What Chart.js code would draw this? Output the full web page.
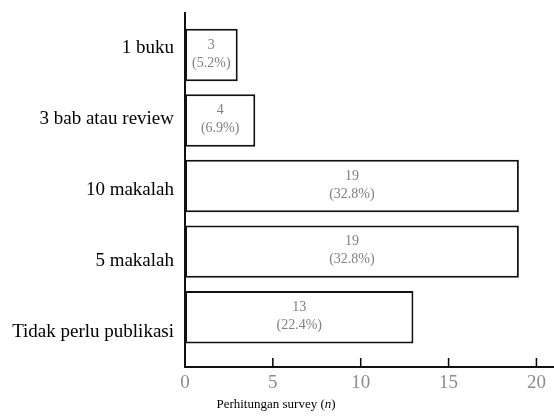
<!DOCTYPE html>
<html>
<head>
<meta charset="utf-8">
<script src="https://cdn.jsdelivr.net/npm/chart.js@4/dist/chart.umd.min.js"></script>
<style>
  html, body { margin: 0; padding: 0; background: #fff; }
  #wrap { width: 554px; height: 418px; position: relative; }
</style>
</head>
<body>
<div id="wrap"><canvas id="chart"></canvas></div>
<script>
// Data (top to bottom)
const categories = ['1 buku', '3 bab atau review', '10 makalah', '5 makalah', 'Tidak perlu publikasi'];
const counts = [3, 4, 19, 19, 13];
const percents = ['5.2%', '6.9%', '32.8%', '32.8%', '22.4%'];
const xTicks = [0, 5, 10, 15, 20];
const axisTitle = ['Perhitungan survey (', 'n', ')'];

const serif = '"Liberation Serif", "DejaVu Serif", serif';

// Write count and percentage inside each bar
const barLabels = {
  id: 'barLabels',
  afterDatasetsDraw(chart) {
    const ctx = chart.ctx;
    const meta = chart.getDatasetMeta(0);
    ctx.save();
    ctx.fillStyle = '#808080';
    ctx.font = '14px ' + serif;
    ctx.textAlign = 'center';
    ctx.textBaseline = 'middle';
    meta.data.forEach((bar, i) => {
      const cx = (bar.base + bar.x) / 2;
      ctx.fillText(String(counts[i]), cx, bar.y - 10);
      ctx.fillText('(' + percents[i] + ')', cx, bar.y + 8);
    });
    ctx.restore();
  }
};

// Tick marks pointing up into the plot, plus the x axis title
const axisExtras = {
  id: 'axisExtras',
  afterDraw(chart) {
    const ctx = chart.ctx;
    const x = chart.scales.x;
    const bottom = chart.chartArea.bottom;
    ctx.save();
    ctx.strokeStyle = '#000';
    ctx.lineWidth = 1.5;
    xTicks.slice(1).forEach(v => {
      const px = x.getPixelForValue(v);
      ctx.beginPath();
      ctx.moveTo(px, bottom);
      ctx.lineTo(px, bottom - 9);
      ctx.stroke();
    });

    // title with italic n
    ctx.fillStyle = '#000';
    ctx.textBaseline = 'middle';
    const fonts = ['13px ' + serif, 'italic 13px ' + serif, '13px ' + serif];
    let total = 0;
    axisTitle.forEach((t, i) => { ctx.font = fonts[i]; total += ctx.measureText(t).width; });
    let tx = 276 - total / 2;
    axisTitle.forEach((t, i) => {
      ctx.font = fonts[i];
      ctx.fillText(t, tx, 405);
      tx += ctx.measureText(t).width;
    });
    ctx.restore();
  }
};

new Chart(document.getElementById('chart'), {
  type: 'bar',
  data: {
    datasets: [{
      data: counts.map((v, i) => ({ x: v, y: i })),
      yAxisID: 'yb',
      backgroundColor: '#fff',
      borderColor: '#111',
      borderWidth: 2,
      borderSkipped: false,
      categoryPercentage: 1,
      barPercentage: 0.8
    }]
  },
  options: {
    indexAxis: 'y',
    responsive: true,
    maintainAspectRatio: false,
    animation: false,
    layout: { padding: 0 },
    scales: {
      x: {
        type: 'linear',
        bounds: 'data',
        offset: false,
        min: 0,
        max: 21,
        grid: { display: false },
        border: { display: true, color: '#111', width: 2 },
        afterBuildTicks: scale => { scale.ticks = xTicks.map(v => ({ value: v })); },
        afterFit: scale => { scale.height = 51; },
        ticks: {
          color: '#8c8c8c',
          padding: -3,
          font: { family: serif, size: 19 }
        }
      },
      // category axis carrying the labels and the axis line
      y: {
        type: 'category',
        labels: categories,
        offset: true,
        position: 'left',
        grid: { display: false },
        border: { display: true, color: '#111', width: 2 },
        afterFit: scale => { scale.width = 185; scale.paddingTop = 13; scale.paddingBottom = 0; },
        ticks: {
          color: '#000',
          padding: 3,
          font: { family: serif, size: 19 }
        }
      },
      // hidden linear axis that places the bars
      yb: {
        type: 'linear',
        display: false,
        bounds: 'data',
        offset: false,
        reverse: true,
        min: -0.64,
        max: 4.76,
        afterBuildTicks: scale => { scale.ticks = categories.map((c, i) => ({ value: i })); }
      }
    },
    plugins: {
      legend: { display: false },
      tooltip: { enabled: false }
    }
  },
  plugins: [barLabels, axisExtras]
});
</script>
</body>
</html>
